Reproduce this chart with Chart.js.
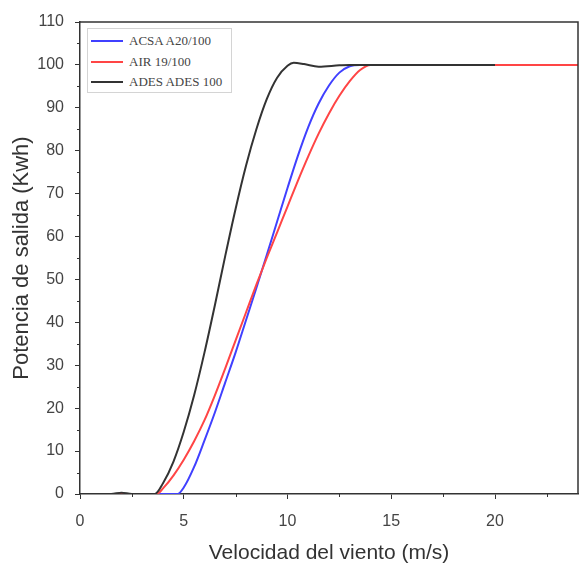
<!DOCTYPE html>
<html>
<head>
<meta charset="utf-8">
<title>Potencia de salida</title>
<script src="https://cdn.jsdelivr.net/npm/chart.js@4.4.1/dist/chart.umd.min.js"></script>
<style>
  body { margin: 0; background: #fff; }
  #wrap { position: relative; width: 580px; height: 568px; }
  #legend {
    position: absolute; left: 87px; top: 28px; width: 145px; height: 65px;
    border: 1px solid #d4d4d4; background: #fff; box-sizing: border-box;
    padding-top: 2px;
  }
  #legend .item { height: 20.5px; display: flex; align-items: center; }
  #legend .swatch { width: 32px; height: 2px; margin-left: 3px; margin-right: 6px; }
  #legend .txt { font-family: "Liberation Serif", serif; font-size: 13px; color: #444; white-space: nowrap; }
</style>
</head>
<body>
<div id="wrap">
  <canvas id="line-chart" width="580" height="568"></canvas>
  <div id="legend"></div>
</div>
<script>
// datos
var seriesNames = ["ACSA A20/100", "AIR 19/100", "ADES ADES 100"];
var seriesColors = ["#4040ff", "#ff4545", "#333333"];

var acsaX = [0, 4.7, 5, 5.5, 6, 6.5, 7, 7.5, 8, 8.5, 9, 9.5, 10, 10.5, 11, 11.5, 12, 12.5, 13, 13.5, 20];
var acsaY = [0, 0, 1.5, 6.3, 12.5, 19, 26, 33, 40.5, 48, 55.7, 63.5, 71.3, 78.8, 85.5, 91, 95.2, 98.2, 99.7, 100, 100];

var airX = [0, 3.7, 4, 4.5, 5, 5.5, 6, 6.5, 7, 7.5, 8, 8.5, 9, 9.5, 10, 10.5, 11, 11.5, 12, 12.5, 13, 13.5, 14, 24];
var airY = [0, 0, 1.3, 4.3, 8, 12.3, 17.2, 23, 29.3, 35.8, 42.3, 48.8, 55, 61, 67, 73, 78.7, 84, 88.7, 92.8, 96.2, 98.8, 100, 100];

var adesX = [0, 1.5, 2, 2.5, 3.6, 4, 4.5, 5, 5.5, 6, 6.5, 7, 7.5, 8, 8.5, 9, 9.5, 10, 10.3, 10.8, 11.5, 12.5, 13, 20];
var adesY = [0, 0, 0.3, 0, 0, 2.5, 7.5, 14.5, 23, 33, 44, 55.5, 66.5, 76.5, 85, 92, 97, 99.8, 100.5, 100.2, 99.6, 99.9, 100, 100];

var xTicks = [0, 5, 10, 15, 20];
var yTicks = [0, 10, 20, 30, 40, 50, 60, 70, 80, 90, 100, 110];

function puntos(xs, ys) {
  var out = [];
  for (var i = 0; i < xs.length; i++) out.push({ x: xs[i], y: ys[i] });
  return out;
}

var allSeries = [puntos(acsaX, acsaY), puntos(airX, airY), puntos(adesX, adesY)];
var drawOrder = [3, 2, 1];

var datasets = [];
for (var i = 0; i < allSeries.length; i++) {
  datasets.push({
    label: seriesNames[i],
    data: allSeries[i],
    borderColor: seriesColors[i],
    backgroundColor: seriesColors[i],
    borderWidth: 2,
    pointRadius: 0,
    cubicInterpolationMode: 'monotone',
    fill: false,
    order: drawOrder[i]
  });
}

// marco y ticks menores
var frameTicks = {
  id: 'frameTicks',
  afterDraw: function (chart) {
    var ctx = chart.ctx, a = chart.chartArea;
    var xs = chart.scales.x, ys = chart.scales.y;
    ctx.save();
    ctx.strokeStyle = '#333';
    ctx.lineWidth = 1.5;
    ctx.beginPath();
    ctx.moveTo(a.left, a.top);
    ctx.lineTo(a.right, a.top);
    ctx.lineTo(a.right, a.bottom);
    ctx.stroke();
    ctx.lineWidth = 1;
    ctx.beginPath();
    for (var v = 5; v < 110; v += 10) {
      var py = Math.round(ys.getPixelForValue(v)) + 0.5;
      ctx.moveTo(a.left - 3, py);
      ctx.lineTo(a.left, py);
    }
    for (var u = 2.5; u < 24; u += 5) {
      var px = Math.round(xs.getPixelForValue(u)) + 0.5;
      ctx.moveTo(px, a.bottom);
      ctx.lineTo(px, a.bottom + 3);
    }
    ctx.stroke();
    ctx.restore();
  }
};

new Chart(document.getElementById("line-chart"), {
  type: 'line',
  data: { datasets: datasets },
  options: {
    responsive: false,
    animation: false,
    layout: { padding: { top: 22, right: 2, left: 0, bottom: 0 } },
    plugins: {
      legend: { display: false },
      tooltip: { enabled: false }
    },
    scales: {
      x: {
        type: 'linear',
        min: 0,
        max: 24,
        afterFit: function (s) { s.height = 74; },
        afterBuildTicks: function (s) { s.ticks = xTicks.map(function (v) { return { value: v }; }); },
        ticks: {
          font: { family: "'Liberation Sans', Arial, sans-serif", size: 16 },
          color: '#444',
          padding: 13
        },
        grid: { drawOnChartArea: false, tickLength: 5, tickColor: '#333', tickWidth: 1 },
        border: { color: '#333', width: 1.5 },
        title: {
          display: true,
          text: 'Velocidad del viento (m/s)',
          font: { family: "'Liberation Sans', Arial, sans-serif", size: 21 },
          color: '#333',
          padding: { top: 0, bottom: 2 }
        }
      },
      y: {
        min: 0,
        max: 110,
        afterFit: function (s) { s.width = 80; },
        afterBuildTicks: function (s) { s.ticks = yTicks.map(function (v) { return { value: v }; }); },
        ticks: {
          font: { family: "'Liberation Sans', Arial, sans-serif", size: 16 },
          color: '#444',
          padding: 11
        },
        grid: { drawOnChartArea: false, tickLength: 5, tickColor: '#333', tickWidth: 1 },
        border: { color: '#333', width: 1.5 },
        title: {
          display: true,
          text: 'Potencia de salida (Kwh)',
          font: { family: "'Liberation Sans', Arial, sans-serif", size: 22 },
          color: '#333',
          padding: { top: 9, bottom: 0 }
        }
      }
    }
  },
  plugins: [frameTicks]
});

// leyenda
var legend = document.getElementById('legend');
for (var k = 0; k < seriesNames.length; k++) {
  var row = document.createElement('div');
  row.className = 'item';
  row.innerHTML = '<span class="swatch" style="background:' + seriesColors[k] + '"></span><span class="txt">' + seriesNames[k] + '</span>';
  legend.appendChild(row);
}
</script>
</body>
</html>
